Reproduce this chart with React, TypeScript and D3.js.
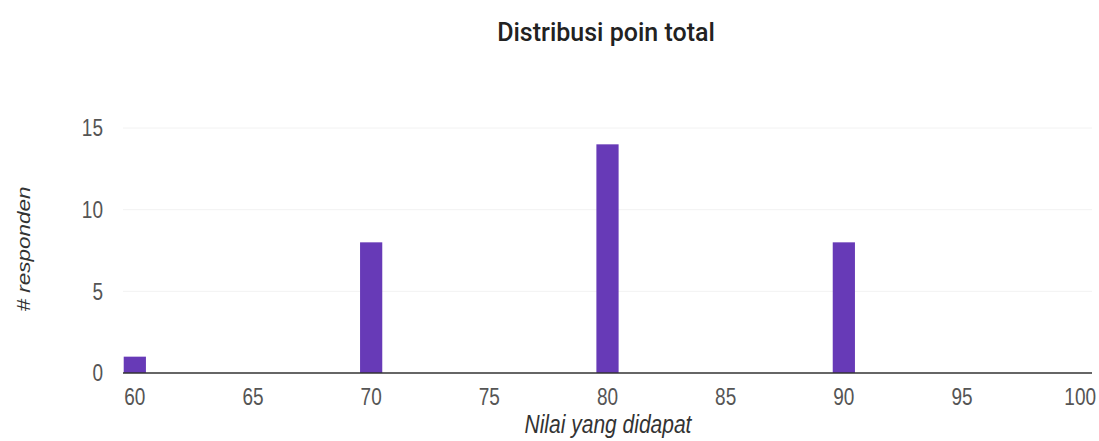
import React from "react";
import * as d3 from "d3";

const scores = [60, 70, 80, 90];
const counts = [1, 8, 14, 8];
const xTicks = [60, 65, 70, 75, 80, 85, 90, 95, 100];
const yTicks = [0, 5, 10, 15];

export default function App() {
  const W = 1099, H = 441;
  const x = d3.scaleLinear().domain([59.5, 100.5]).range([123, 1092]);
  const y = d3.scaleLinear().domain([0, 15]).range([373, 128]);
  const bw = x(60.47) - x(59.53);
  const font = "'Liberation Sans', Arial, sans-serif";
  const sy = 1.25;
  return (
    <svg width={W} height={H} style={{ position: "absolute", left: 0, top: 0, background: "#fff" }}>
      <text x={606} y={41} textAnchor="middle" fontFamily="Roboto, sans-serif" fontWeight={500} fontSize={25} fill="#222">
        Distribusi poin total
      </text>
      {yTicks.filter(t => t > 0).map(t => (
        <line key={t} x1={123} x2={1092} y1={y(t)} y2={y(t)} stroke="#f2f2f2" strokeWidth={1} />
      ))}
      {yTicks.map(t => (
        <text key={t} transform={`translate(103,${y(t)}) scale(1,${sy})`} dy="0.35em" textAnchor="end" fontFamily={font} fontSize={19} fill="#555">
          {t}
        </text>
      ))}
      {scores.map((s, i) => (
        <rect key={s} x={x(s) - bw / 2} y={y(counts[i])} width={bw} height={y(0) - y(counts[i])} fill="#673ab7" />
      ))}
      <line x1={123} x2={1092} y1={y(0)} y2={y(0)} stroke="#333" strokeWidth={1.5} />
      {xTicks.map(t => (
        <text key={t} transform={`translate(${x(t)},397) scale(1,${sy})`} dy="0.35em" textAnchor="middle" fontFamily={font} fontSize={19} fill="#555">
          {t}
        </text>
      ))}
      <text transform={`translate(608,424) scale(1,${sy})`} dy="0.35em" textAnchor="middle" fontFamily={font} fontStyle="italic" fontSize={21} fill="#333">
        Nilai yang didapat
      </text>
      <text transform={`translate(24,249) rotate(-90) scale(${sy},1)`} dy="0.35em" textAnchor="middle" fontFamily={font} fontStyle="italic" fontSize={18} fill="#333">
        # responden
      </text>
    </svg>
  );
}
